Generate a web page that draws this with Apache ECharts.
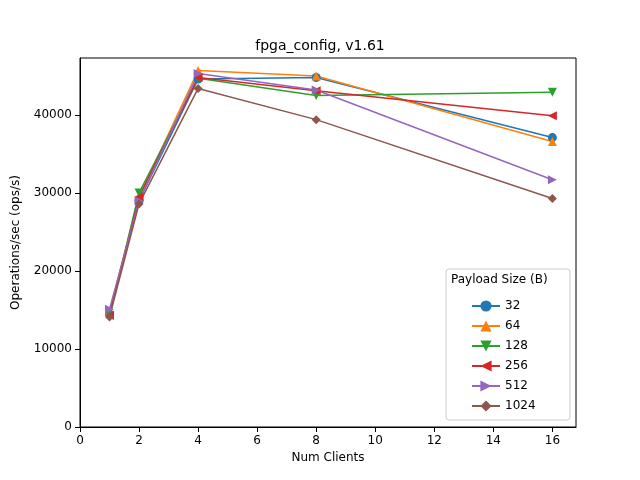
<!DOCTYPE html>
<html>
<head>
<meta charset="utf-8">
<script src="https://cdn.jsdelivr.net/npm/echarts@6/dist/echarts.min.js"></script>
<style>html,body{margin:0;padding:0;background:#fff}#c{width:640px;height:480px}</style>
</head>
<body>
<div id="c"></div>
<script>
const clients = [1, 2, 4, 8, 16];
const names = ['32', '64', '128', '256', '512', '1024'];
const s32 = [14500, 29000, 44600, 44800, 37100];
const s64 = [14800, 29500, 45700, 45000, 36600];
const s128 = [14300, 30000, 44700, 42500, 42900];
const s256 = [14300, 29500, 44800, 43100, 39900];
const s512 = [15100, 29000, 45300, 43200, 31700];
const s1024 = [14100, 28600, 43400, 39400, 29300];
const values = [s32, s64, s128, s256, s512, s1024];
const colors = ['#1f77b4', '#ff7f0e', '#2ca02c', '#d62728', '#9467bd', '#8c564b'];
const symbols = ['circle', 'triangle', 'triangle', 'triangle', 'triangle', 'diamond'];
const rotations = [0, 0, 180, 90, -90, 0];
const font = 'DejaVu Sans';

const chart = echarts.init(document.getElementById('c'));
chart.setOption({
  animation: false,
  textStyle: { fontFamily: font },
  title: { text: 'fpga_config, v1.61', left: 'center', top: 34,
    textStyle: { fontFamily: font, fontSize: 14, fontWeight: 'normal', color: '#000' } },
  grid: { left: 80, right: 64, top: 58, bottom: 53 },
  xAxis: { type: 'value', min: 0, max: 16.8, interval: 2, name: 'Num Clients',
    nameLocation: 'middle', nameGap: 24, nameTextStyle: { color: '#000', fontSize: 12 },
    axisLine: { lineStyle: { color: '#000' } }, axisTick: { lineStyle: { color: '#000' } },
    axisLabel: { color: '#000', fontSize: 12, showMaxLabel: false }, splitLine: { show: false } },
  yAxis: { type: 'value', min: 0, max: 47300, interval: 10000, name: 'Operations/sec (ops/s)',
    nameLocation: 'middle', nameGap: 58, nameTextStyle: { color: '#000', fontSize: 12 },
    axisLine: { show: true, lineStyle: { color: '#000' } }, axisTick: { show: true, lineStyle: { color: '#000' } },
    axisLabel: { color: '#000', fontSize: 12, showMaxLabel: false, formatter: v => String(v) },
    splitLine: { show: false } },
  graphic: [
    { type: 'rect', shape: { x: 80, y: 58, width: 496, height: 369 },
      style: { fill: 'none', stroke: '#000', lineWidth: 1 }, z: 4, silent: true },
    { type: 'rect', shape: { x: 446, y: 269, width: 124, height: 151, r: 3 },
      style: { fill: 'rgba(255,255,255,0.8)', stroke: '#ccc' }, z: 5 },
    { type: 'text', left: 451, top: 274, z: 6,
      style: { text: 'Payload Size (B)', fontFamily: font, fontSize: 12, fill: '#000' } }
  ],
  legend: { orient: 'vertical', left: 466, top: 295, itemGap: 8, itemWidth: 28, itemHeight: 14,
    textStyle: { fontFamily: font, fontSize: 12, color: '#000' }, z: 7 },
  series: names.map((n, i) => ({
    name: n, type: 'line', data: clients.map((x, j) => [x, values[i][j]]),
    symbol: symbols[i], symbolRotate: rotations[i], symbolSize: 9,
    lineStyle: { color: colors[i], width: 1.5 }, itemStyle: { color: colors[i] }
  }))
});
</script>
</body>
</html>
